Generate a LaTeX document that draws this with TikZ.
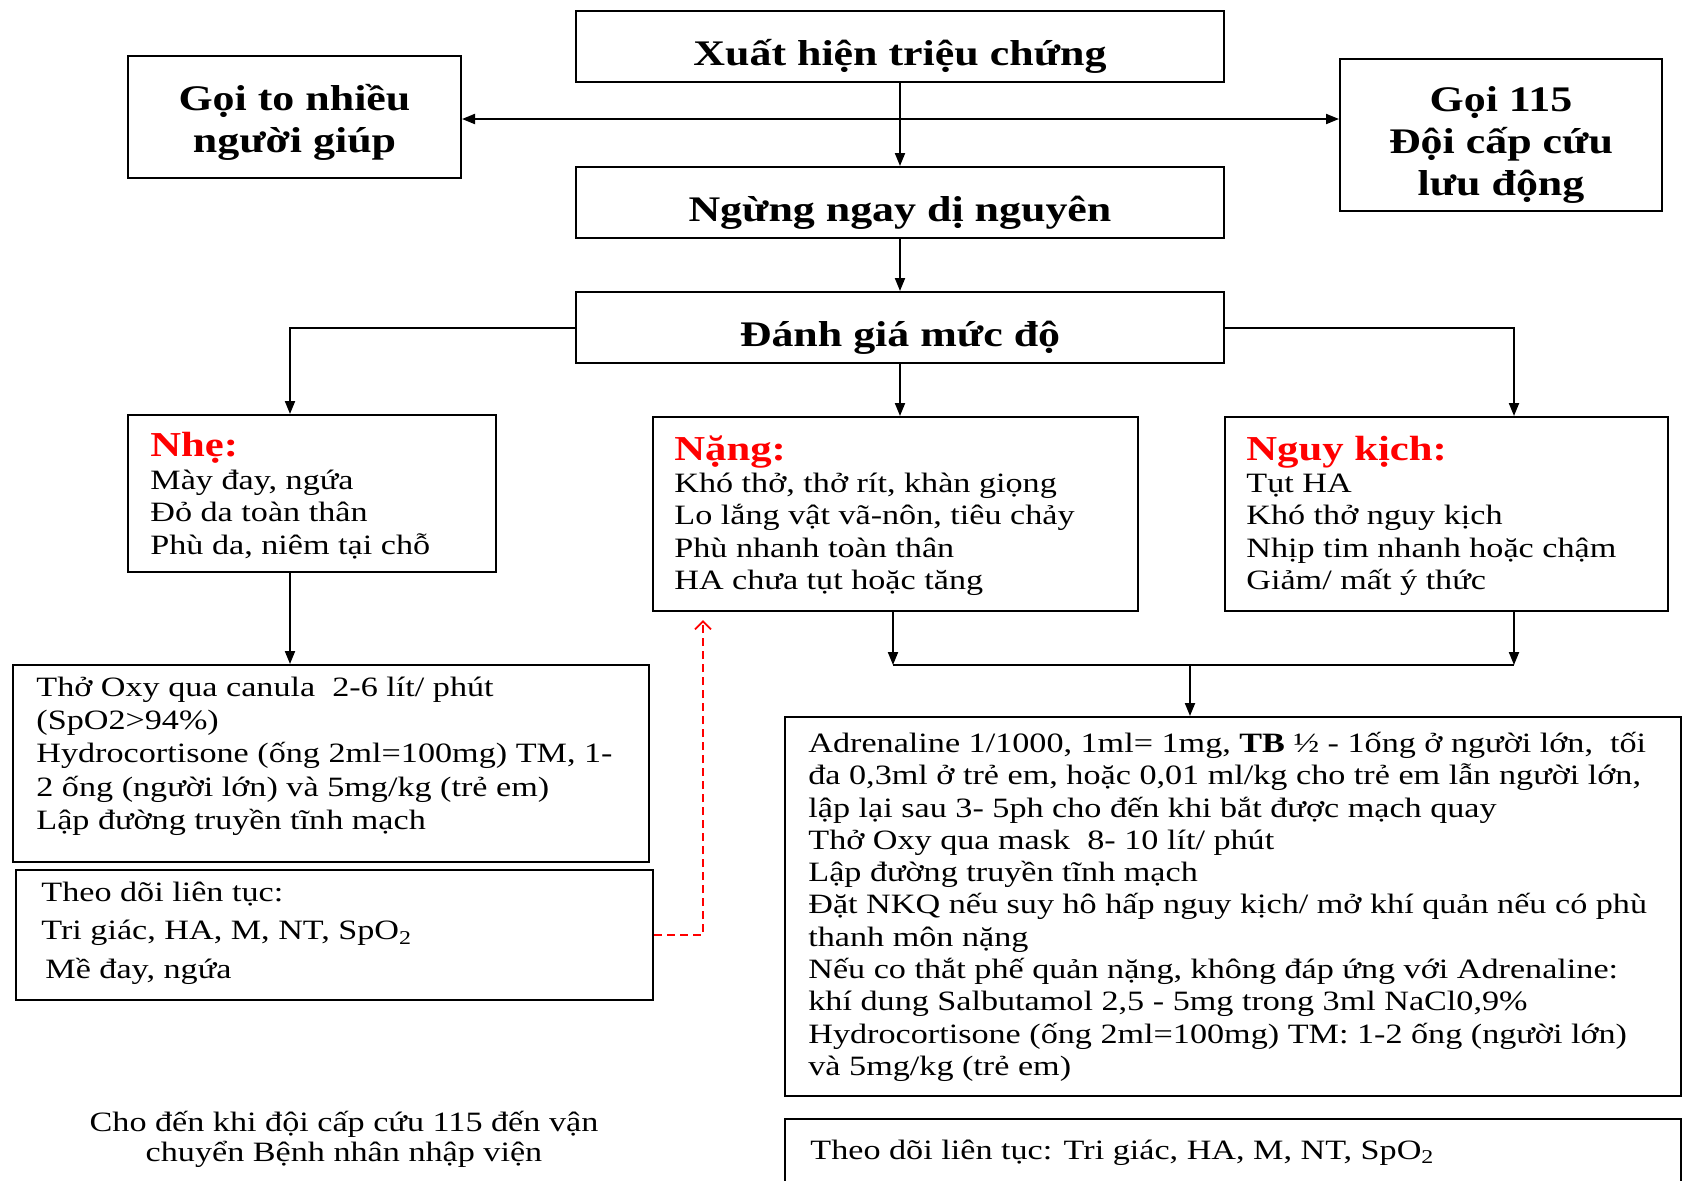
\documentclass[tikz,border=0pt]{standalone}
\usepackage{fontspec}
\setmainfont[FakeStretch=1.22]{Liberation Serif}
\usetikzlibrary{arrows.meta}
\newcommand\fs{\rule{0pt}{1.05em}}
\tikzset{
 box/.style={draw, line width=1pt, rectangle, inner sep=0pt},
 ttl/.style={font=\fontsize{18}{21}\selectfont\bfseries, align=center, inner sep=0pt},
 body/.style={font=\fontsize{14}{16.2}\selectfont, align=left, inner sep=0pt, anchor=north west},
 one/.style={font=\fontsize{14}{16.2}\selectfont, inner sep=0pt, anchor=base west},
 head/.style={font=\fontsize{17.5}{20}\selectfont\bfseries, text=red, inner sep=0pt, anchor=base west},
 arr/.style={line width=1pt, -{Triangle[length=6.5pt,width=5pt]}},
 ln/.style={line width=1pt},
 reddash/.style={draw=red, line width=0.9pt, dash pattern=on 4pt off 2.5pt, -{Straight Barb[length=4pt,width=8pt]}},
}
\begin{document}
\begin{tikzpicture}[x=0.5pt,y=-0.5pt]
\useasboundingbox (0,0) rectangle (1683,1180);
% title boxes
\node[box, minimum width=324pt, minimum height=35.5pt] (xh) at (900,46.5) {};
\node[box, minimum width=166.5pt, minimum height=61pt] (goi) at (294.5,117) {};
\node[box, minimum width=161pt, minimum height=76pt] (g115) at (1501,135) {};
\node[box, minimum width=324pt, minimum height=35.5pt] (ng) at (900,202.5) {};
\node[box, minimum width=324pt, minimum height=35.5pt] (dg) at (900,327.5) {};
\node[ttl] (xht) at ([yshift=-5pt]xh.center) {Xuất hiện triệu chứng};
\node[ttl] (goit) at ([yshift=-2.7pt]goi.center) {Gọi to nhiều\\người giúp};
\node[ttl] (g115t) at ([yshift=-5pt]g115.center) {Gọi 115\\Đội cấp cứu\\lưu động};
\node[ttl] (ngt) at ([yshift=-5pt]ng.center) {Ngừng ngay dị nguyên};
\node[ttl] (dgt) at ([yshift=-5pt]dg.center) {Đánh giá mức độ};
% content boxes
\node[box, minimum width=184pt, minimum height=78.5pt] (nhe) at (312,493.5) {};
\node[box, minimum width=242.5pt, minimum height=97pt] (nang) at (895.5,514) {};
\node[box, minimum width=221.5pt, minimum height=97pt] (nguy) at (1446.5,514) {};
\node[box, minimum width=318pt, minimum height=98.5pt] (oxy) at (331,763.5) {};
\node[box, minimum width=318.5pt, minimum height=65pt] (tdl) at (334.5,935) {};
\node[box, minimum width=448pt, minimum height=189.5pt] (adr) at (1233,906.5) {};
\node[box, minimum width=448pt, minimum height=45pt] (tdr) at (1233,1164) {};
% texts
\node[head] (nheh) at (150,456) {Nhẹ:};
\node[body] (nhet) at (150,459.6) {\fs Mày đay, ngứa\\Đỏ da toàn thân\\Phù da, niêm tại chỗ};
\node[head] (nangh) at (674,460) {Nặng:};
\node[body] (nangt) at (674,462.6) {\fs Khó thở, thở rít, khàn giọng\\Lo lắng vật vã-nôn, tiêu chảy\\Phù nhanh toàn thân\\HA chưa tụt hoặc tăng};
\node[head] (nguyh) at (1246,460) {Nguy kịch:};
\node[body] (nguyt) at (1246,462.6) {\fs Tụt HA\\Khó thở nguy kịch\\Nhịp tim nhanh hoặc chậm\\Giảm/ mất ý thức};
\node[body, font=\fontsize{14}{16.6}\selectfont] (oxyt) at (36,666.6) {\fs Thở Oxy qua canula~ 2-6 lít/ phút\\(SpO2>94\%)\\Hydrocortisone (ống 2ml=100mg) TM, 1-\\2 ống (người lớn) và 5mg/kg (trẻ em)\\Lập đường truyền tĩnh mạch};
\node[body, font=\fontsize{14}{19.25}\selectfont] (tdlt) at (41,871.6) {\fs Theo dõi liên tục:\\Tri giác, HA, M, NT, SpO\textsubscript{2}\\\hspace{2pt}Mề đay, ngứa};
\node[body, font=\fontsize{14}{16.15}\selectfont] (adrt) at (808,722.6) {\fs Adrenaline 1/1000, 1ml= 1mg, \textbf{TB} ½ - 1ống ở người lớn,~ tối\\đa 0,3ml ở trẻ em, hoặc 0,01 ml/kg cho trẻ em lẫn người lớn,\\lập lại sau 3- 5ph cho đến khi bắt được mạch quay\\Thở Oxy qua mask~ 8- 10 lít/ phút\\Lập đường truyền tĩnh mạch\\Đặt NKQ nếu suy hô hấp nguy kịch/ mở khí quản nếu có phù\\thanh môn nặng\\Nếu co thắt phế quản nặng, không đáp ứng với Adrenaline:\\khí dung Salbutamol 2,5 - 5mg trong 3ml NaCl0,9\%\\Hydrocortisone (ống 2ml=100mg) TM: 1-2 ống (người lớn)\\và 5mg/kg (trẻ em)};
\node[one] (tdrt) at (810,1159) {Theo dõi liên tục: Tri giác, HA, M, NT, SpO\textsubscript{2}};
\node[font=\fontsize{14}{15}\selectfont, align=center, inner sep=0pt, anchor=north] (foot) at (344,1101.6) {\fs Cho đến khi đội cấp cứu 115 đến vận\\chuyển Bệnh nhân nhập viện};
% connectors
\coordinate (hs) at (900,119);
\coordinate (cl) at (290,0);
\coordinate (cr) at (1514,0);
\coordinate (cm) at (893,0);
\coordinate (ca) at (1190,0);
\coordinate (jy) at (0,665);
\coordinate (rt) at (703,620);
\draw[arr] (xh.south) -- (ng.north);
\draw[arr] (hs) -- (goi.east |- hs);
\draw[arr] (hs) -- (g115.west |- hs);
\draw[arr] (ng.south) -- (dg.north);
\draw[arr] (dg.west) -| (cl |- nhe.north);
\draw[arr] (dg.east) -| (cr |- nguy.north);
\draw[arr] (dg.south) -- (dg.south |- nang.north);
\draw[arr] (cl |- nhe.south) -- (cl |- oxy.north);
\draw[arr] (cm |- nang.south) -- (cm |- jy);
\draw[arr] (cr |- nguy.south) -- (cr |- jy);
\draw[ln] (cm |- jy) -- (cr |- jy);
\draw[arr] (ca |- jy) -- (ca |- adr.north);
\draw[reddash] (tdl.east) -| (rt);
\end{tikzpicture}
\end{document}
